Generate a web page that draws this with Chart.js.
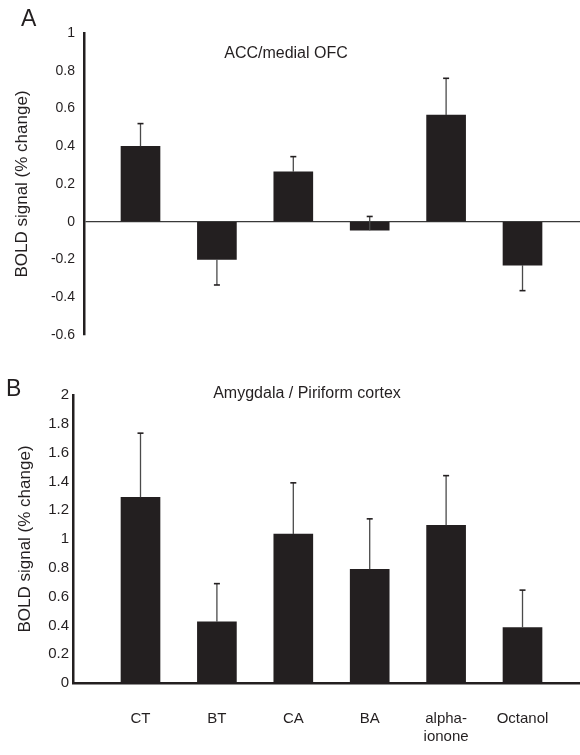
<!DOCTYPE html>
<html>
<head>
<meta charset="utf-8">
<script src="https://cdn.jsdelivr.net/npm/chart.js@4"></script>
<style>
  html, body { margin: 0; padding: 0; background: #fff; }
  body { width: 580px; height: 755px; position: relative; overflow: hidden;
         font-family: Arial, "Liberation Sans", sans-serif; color: #231f20; }
  .panel { position: absolute; left: 0; width: 580px; }
  .letter { position: absolute; font-size: 23px; font-weight: normal; }
  .title { position: absolute; font-size: 16px; white-space: nowrap; transform: translateX(-50%); }
</style>
</head>
<body>
<div class="panel" style="top:0;height:360px;"><canvas id="chartA" width="580" height="360"></canvas></div>
<div class="panel" style="top:360px;height:395px;"><canvas id="chartB" width="580" height="395"></canvas></div>

<div class="letter" style="left:21px;top:5px;">A</div>
<div class="letter" style="left:6px;top:375px;">B</div>
<div class="title" style="left:286px;top:44px;">ACC/medial OFC</div>
<div class="title" style="left:307px;top:384px;">Amygdala / Piriform cortex</div>

<script>
/* =============================================
   DATA
   ============================================= */
const odors = ['CT', 'BT', 'CA', 'BA', ['alpha-', 'ionone'], 'Octanol'];

// panel A: ACC / medial OFC
const accMean = [0.40, -0.20, 0.265, -0.045, 0.565, -0.23];
const accErrEnd = [0.52, -0.335, 0.345, 0.028, 0.76, -0.365];
const accTicks = [-0.6, -0.4, -0.2, 0, 0.2, 0.4, 0.6, 0.8, 1];

// panel B: amygdala / piriform cortex
const amyMean = [1.29, 0.425, 1.035, 0.79, 1.095, 0.385];
const amyErrEnd = [1.735, 0.69, 1.39, 1.14, 1.44, 0.645];
const amyTicks = [0, 0.2, 0.4, 0.6, 0.8, 1, 1.2, 1.4, 1.6, 1.8, 2];

const INK = '#231f20';
const FONT = 'Arial, "Liberation Sans", sans-serif';

/* error whiskers drawn from the bar end to errEnd, with a small cap */
const errorBars = {
  id: 'errorBars',
  afterDatasetsDraw(chart) {
    const ds = chart.data.datasets[0];
    const xs = chart.scales.x, ys = chart.scales.y;
    const ctx = chart.ctx;
    ctx.save();
    ds.data.forEach((p, i) => {
      const x = xs.getPixelForValue(p.x);
      const y1 = ys.getPixelForValue(p.y);
      const y2 = ys.getPixelForValue(ds.errEnd[i]);
      ctx.strokeStyle = '#4a4a4a';
      ctx.lineWidth = 1.3;
      ctx.beginPath(); ctx.moveTo(x, y1); ctx.lineTo(x, y2); ctx.stroke();
      ctx.strokeStyle = INK;
      ctx.lineWidth = 1.6;
      ctx.beginPath(); ctx.moveTo(x - 3, y2); ctx.lineTo(x + 3, y2); ctx.stroke();
    });
    ctx.restore();
  }
};

const fmtTick = v => String(+Number(v).toFixed(1));

function makeChart(id, means, errEnd, ticks, opts) {
  const ctx = document.getElementById(id).getContext('2d');
  return new Chart(ctx, {
    type: 'bar',
    data: {
      datasets: [{
        data: means.map((v, i) => ({ x: i + 1, y: v })),
        errEnd,
        backgroundColor: INK,
        borderWidth: 0,
        barThickness: 39
      }]
    },
    options: {
      responsive: false,
      animation: false,
      events: [],
      layout: { padding: { top: opts.top, bottom: opts.bottom, left: 0, right: 0 } },
      plugins: { legend: { display: false }, tooltip: { enabled: false } },
      scales: {
        x: {
          type: 'linear',
          offset: false,
          min: opts.xMin, max: 6.7525,
          display: opts.showX,
          afterFit: s => { s.height = opts.xHeight; },
          afterBuildTicks: s => { s.ticks = odors.map((o, i) => ({ value: i + 1 })); },
          grid: { display: false, drawTicks: false },
          border: { display: true, color: INK, width: 2.5 },
          ticks: {
            padding: 27,
            color: INK,
            maxRotation: 0,
            autoSkip: false,
            font: { family: FONT, size: 15 },
            callback: v => odors[v - 1]
          }
        },
        y: {
          min: ticks[0], max: ticks[ticks.length - 1],
          afterFit: s => { s.width = opts.yWidth; },
          afterBuildTicks: s => { s.ticks = ticks.map(v => ({ value: v })); },
          grid: {
            drawTicks: false,
            color: c => (opts.zeroLine && c.tick && c.tick.value === 0) ? '#3a3a3a' : 'rgba(0,0,0,0)',
            lineWidth: 1.3
          },
          border: { display: true, color: INK, width: 2.5 },
          ticks: {
            padding: opts.tickPad,
            color: INK,
            font: { family: FONT, size: opts.tickSize },
            callback: v => fmtTick(v)
          },
          title: {
            display: true,
            text: 'BOLD signal (% change)',
            color: INK,
            font: { family: FONT, size: 17 },
            padding: { top: opts.titlePad, bottom: 0 }
          }
        }
      }
    },
    plugins: [errorBars]
  });
}

makeChart('chartA', accMean, accErrEnd, accTicks, {
  top: 33, bottom: 25, xMin: 0.2605, showX: false, xHeight: 0,
  yWidth: 84, zeroLine: true, tickSize: 14, tickPad: 9, titlePad: 12
});

makeChart('chartB', amyMean, amyErrEnd, amyTicks, {
  top: 35, bottom: 0, xMin: 0.1165, showX: true, xHeight: 72,
  yWidth: 73, zeroLine: false, tickSize: 15, tickPad: 4, titlePad: 15
});
</script>
</body>
</html>
